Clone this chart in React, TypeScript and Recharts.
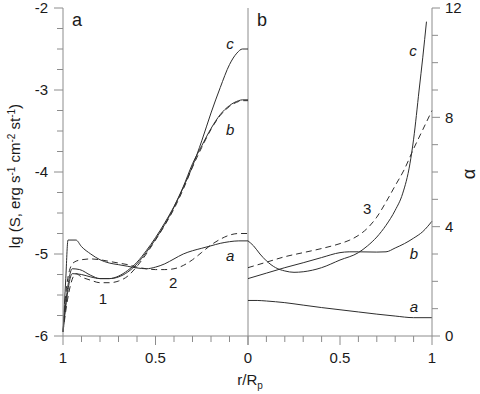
import React from 'react';
import { LineChart, Line, XAxis, YAxis, ReferenceLine, ReferenceDot } from 'recharts';

const AXIS = '#8c8c8c';
const INK = '#2e2e2e';
const TEXT = '#1a1a1a';
const FONT = '"Liberation Sans", Arial, Helvetica, sans-serif';

// panel a: lg S against r/Rp (axis runs 1 -> 0)
const rA1 = [1, 0.985, 0.973, 0.93, 0.9, 0.85, 0.8, 0.75, 0.7, 0.65, 0.6, 0.55, 0.5, 0.45, 0.4, 0.35, 0.3, 0.25, 0.2, 0.15, 0.1, 0.05, 0];
const sA1 = [-5.95, -5.3, -4.83, -4.83, -4.91, -5.0, -5.07, -5.11, -5.13, -5.15, -5.17, -5.18, -5.16, -5.12, -5.06, -5.0, -4.96, -4.93, -4.9, -4.87, -4.85, -4.84, -4.84];
const rA2 = [1, 0.985, 0.965, 0.94, 0.9, 0.85, 0.8, 0.75, 0.7, 0.65, 0.6, 0.55, 0.5, 0.45, 0.4, 0.35, 0.3, 0.25, 0.2, 0.15, 0.1, 0.05, 0];
const sA2 = [-5.95, -5.5, -5.2, -5.1, -5.07, -5.06, -5.07, -5.09, -5.11, -5.13, -5.16, -5.18, -5.19, -5.19, -5.18, -5.14, -5.07, -4.98, -4.89, -4.82, -4.77, -4.75, -4.75];
const rC1 = [1, 0.98, 0.95, 0.91, 0.85, 0.8, 0.75, 0.7, 0.65, 0.6, 0.55, 0.5, 0.45, 0.4, 0.35, 0.3, 0.25, 0.2, 0.15, 0.1, 0.06, 0.03, 0];
const sC1 = [-5.95, -5.5, -5.18, -5.19, -5.26, -5.3, -5.3, -5.28, -5.22, -5.12, -4.98, -4.82, -4.64, -4.43, -4.19, -3.93, -3.62, -3.28, -2.97, -2.69, -2.55, -2.5, -2.5];
const rB1 = [1, 0.98, 0.95, 0.9, 0.85, 0.8, 0.75, 0.7, 0.65, 0.6, 0.55, 0.5, 0.45, 0.4, 0.35, 0.3, 0.25, 0.2, 0.15, 0.1, 0.05, 0.03, 0];
const sB1 = [-5.95, -5.55, -5.24, -5.25, -5.28, -5.3, -5.3, -5.27, -5.2, -5.1, -4.96, -4.8, -4.62, -4.42, -4.18, -3.9, -3.68, -3.47, -3.3, -3.19, -3.13, -3.12, -3.12];
const rB2 = [1, 0.975, 0.93, 0.9, 0.85, 0.8, 0.75, 0.7, 0.65, 0.6, 0.55, 0.5, 0.45, 0.4, 0.35, 0.3, 0.25, 0.2, 0.15, 0.1, 0.05, 0.03, 0];
const sB2 = [-5.95, -5.55, -5.24, -5.28, -5.32, -5.35, -5.35, -5.33, -5.27, -5.15, -5.0, -4.83, -4.65, -4.45, -4.21, -3.94, -3.7, -3.48, -3.31, -3.2, -3.14, -3.13, -3.13];

// panel b: alpha against r/Rp
const rRa = [0, 0.05, 0.1, 0.2, 0.3, 0.4, 0.5, 0.6, 0.7, 0.8, 0.9, 1];
const alA = [1.3, 1.3, 1.28, 1.22, 1.13, 1.04, 0.96, 0.88, 0.8, 0.73, 0.67, 0.67];
const rRb = [0, 0.1, 0.2, 0.3, 0.4, 0.5, 0.55, 0.6, 0.7, 0.75, 0.8, 0.85, 0.9, 0.95, 1];
const alB = [2.1, 2.3, 2.5, 2.68, 2.87, 3.05, 3.08, 3.08, 3.07, 3.08, 3.22, 3.38, 3.58, 3.82, 4.2];
const rRc = [0, 0.03, 0.065, 0.1, 0.15, 0.2, 0.25, 0.3, 0.4, 0.5, 0.6, 0.65, 0.7, 0.75, 0.8, 0.84, 0.88, 0.9, 0.93, 0.95, 0.97];
const alC = [3.48, 3.3, 3.0, 2.75, 2.5, 2.38, 2.33, 2.35, 2.5, 2.78, 3.05, 3.3, 3.62, 4.05, 4.6, 5.2, 6.3, 7.2, 9.0, 10.2, 11.5];
const rR3 = [0, 0.1, 0.2, 0.3, 0.4, 0.5, 0.55, 0.6, 0.65, 0.7, 0.75, 0.8, 0.85, 0.9, 0.95, 1];
const al3 = [2.5, 2.7, 2.9, 3.05, 3.2, 3.38, 3.5, 3.68, 3.95, 4.35, 4.9, 5.5, 6.1, 6.85, 7.55, 8.25];

const xTicks = [0, 0.1, 0.2, 0.3, 0.4, 0.5, 0.6, 0.7, 0.8, 0.9, 1];
const sTicks = [-6, -5.75, -5.5, -5.25, -5, -4.75, -4.5, -4.25, -4, -3.75, -3.5, -3.25, -3, -2.75, -2.5, -2.25, -2];
const alphaTicks = [0, 1, 2, 3, 4, 5, 6, 7, 8, 9, 10, 11, 12];

// text labels inside the panels: [text, r, value, italic, size]
const notesA: [string, number, number, boolean, number][] = [
  ['a', 0.924, -2.14, false, 18],
  ['c', 0.097, -2.44, true, 15],
  ['b', 0.097, -3.48, true, 15],
  ['a', 0.097, -5.02, true, 15],
  ['1', 0.784, -5.54, false, 15],
  ['2', 0.405, -5.35, false, 15],
];
const notesB: [string, number, number, boolean, number][] = [
  ['b', 0.076, 11.58, false, 18],
  ['c', 0.897, 10.43, true, 15],
  ['3', 0.647, 4.65, false, 15],
  ['b', 0.902, 3.0, true, 15],
  ['a', 0.902, 1.06, true, 15],
];

const zip = (r: number[], v: number[]) => r.map((x, i) => ({ r: x, v: v[i] }));

function BottomTick(props: any) {
  const { x, y, payload, hideZero } = props;
  const v = Math.round(payload.value * 10) / 10;
  const major = v === 0 || v === 0.5 || v === 1;
  const label = major && !(hideZero && v === 0) ? String(v) : null;
  return (
    <g>
      <line x1={x} x2={x} y1={y} y2={y + (major ? 9 : 6)} stroke={AXIS} />
      {label && (
        <text x={x} y={y + 27} textAnchor="middle" fontSize={15} fill={TEXT} fontFamily={FONT}>
          {label}
        </text>
      )}
    </g>
  );
}

function LeftTick(props: any) {
  const { x, y, payload } = props;
  const major = Number.isInteger(payload.value);
  return (
    <g>
      <line x1={x - (major ? 9 : 6)} x2={x} y1={y} y2={y} stroke={AXIS} />
      {major && (
        <text x={x - 15} y={y} dy="0.36em" textAnchor="end" fontSize={15} fill={TEXT} fontFamily={FONT}>
          {'-' + Math.abs(payload.value)}
        </text>
      )}
    </g>
  );
}

function RightTick(props: any) {
  const { x, y, payload } = props;
  const major = payload.value % 4 === 0;
  return (
    <g>
      <line x1={x} x2={x + (major ? 8 : 6)} y1={y} y2={y} stroke={AXIS} />
      {major && (
        <text x={x + 13} y={y} dy="0.36em" textAnchor="start" fontSize={15} fill={TEXT} fontFamily={FONT}>
          {payload.value}
        </text>
      )}
    </g>
  );
}

const note = (text: string, italic: boolean, size: number) => (p: any) => {
  const vb = p.viewBox;
  const cx = vb.x + vb.width / 2;
  const cy = vb.y + vb.height / 2;
  return (
    <text x={cx} y={cy} dy="0.36em" textAnchor="middle" fontSize={size} fontStyle={italic ? 'italic' : 'normal'} fill={TEXT} fontFamily={FONT}>
      {text}
    </text>
  );
};

const sLabel = (p: any) => {
  const vb = p.viewBox;
  const x = vb.x + 15;
  const y = 176;
  return (
    <text transform={`rotate(-90, ${x}, ${y})`} x={x} y={y} dy="0.36em" textAnchor="middle" fontSize={15} fill={TEXT} fontFamily={FONT}>
      lg (S, erg s<tspan dy={-5} fontSize={10}>-1</tspan>
      <tspan dy={5} fontSize={15}> cm</tspan>
      <tspan dy={-5} fontSize={10}>-2</tspan>
      <tspan dy={5} fontSize={15}> st</tspan>
      <tspan dy={-5} fontSize={10}>-1</tspan>
      <tspan dy={5} fontSize={15}>)</tspan>
    </text>
  );
};

const alphaLabel = (p: any) => {
  const vb = p.viewBox;
  const x = vb.x + 37;
  const y = 174;
  return (
    <text transform={`rotate(-90, ${x}, ${y})`} x={x} y={y} dy="0.36em" textAnchor="middle" fontSize={18} fill={TEXT} fontFamily={FONT}>
      α
    </text>
  );
};

const rLabel = (p: any) => {
  const vb = p.viewBox;
  return (
    <text x={vb.x + 2} y={385} textAnchor="middle" fontSize={15} fill={TEXT} fontFamily={FONT}>
      r/R<tspan dy={4} fontSize={10}>p</tspan>
    </text>
  );
};

export default function App() {
  return (
    <div style={{ position: 'absolute', left: 0, top: 0, width: 480, height: 394, background: '#fff' }}>
      <div style={{ position: 'absolute', left: 0, top: 0 }}>
        <LineChart width={250} height={394} margin={{ top: 8, right: 2, bottom: 0, left: 0 }}>
          <XAxis
            dataKey="r"
            type="number"
            domain={[0, 1]}
            reversed
            ticks={xTicks}
            interval={0}
            tick={(p: any) => <BottomTick {...p} hideZero />}
            tickLine={false}
            tickSize={0}
            tickMargin={0}
            axisLine={{ stroke: AXIS }}
            height={58}
          />
          <YAxis
            type="number"
            domain={[-6, -2]}
            ticks={sTicks}
            interval={0}
            tick={(p: any) => <LeftTick {...p} />}
            tickLine={false}
            tickSize={0}
            tickMargin={0}
            axisLine={{ stroke: AXIS }}
            width={63}
            label={sLabel}
          />
          <ReferenceLine x={0} stroke={AXIS} />
          <Line data={zip(rA1, sA1)} dataKey="v" type="monotone" stroke={INK} strokeWidth={1} dot={false} isAnimationActive={false} />
          <Line data={zip(rA2, sA2)} dataKey="v" type="monotone" stroke={INK} strokeWidth={1} strokeDasharray="6 4" dot={false} isAnimationActive={false} />
          <Line data={zip(rC1, sC1)} dataKey="v" type="monotone" stroke={INK} strokeWidth={1} dot={false} isAnimationActive={false} />
          <Line data={zip(rB1, sB1)} dataKey="v" type="monotone" stroke={INK} strokeWidth={1} dot={false} isAnimationActive={false} />
          <Line data={zip(rB2, sB2)} dataKey="v" type="monotone" stroke={INK} strokeWidth={1} strokeDasharray="6 4" dot={false} isAnimationActive={false} />
          {notesA.map(([t, r, v, it, sz]) => (
            <ReferenceDot key={t + r} x={r} y={v} r={0.5} fill="none" stroke="none" label={note(t, it, sz)} />
          ))}
        </LineChart>
      </div>
      <div style={{ position: 'absolute', left: 200, top: 0 }}>
        <LineChart width={280} height={394} margin={{ top: 8, right: 0, bottom: 0, left: 48 }}>
          <XAxis
            dataKey="r"
            type="number"
            domain={[0, 1]}
            ticks={xTicks}
            interval={0}
            tick={(p: any) => <BottomTick {...p} />}
            tickLine={false}
            tickSize={0}
            tickMargin={0}
            axisLine={{ stroke: AXIS }}
            height={58}
            label={rLabel}
          />
          <YAxis
            type="number"
            orientation="right"
            domain={[0, 12]}
            ticks={alphaTicks}
            interval={0}
            tick={(p: any) => <RightTick {...p} />}
            tickLine={false}
            tickSize={0}
            tickMargin={0}
            axisLine={{ stroke: AXIS }}
            width={48}
            label={alphaLabel}
          />
          <Line data={zip(rRa, alA)} dataKey="v" type="monotone" stroke={INK} strokeWidth={1} dot={false} isAnimationActive={false} />
          <Line data={zip(rRb, alB)} dataKey="v" type="monotone" stroke={INK} strokeWidth={1} dot={false} isAnimationActive={false} />
          <Line data={zip(rRc, alC)} dataKey="v" type="monotone" stroke={INK} strokeWidth={1} dot={false} isAnimationActive={false} />
          <Line data={zip(rR3, al3)} dataKey="v" type="monotone" stroke={INK} strokeWidth={1} strokeDasharray="6 4" dot={false} isAnimationActive={false} />
          {notesB.map(([t, r, v, it, sz]) => (
            <ReferenceDot key={t + r} x={r} y={v} r={0.5} fill="none" stroke="none" label={note(t, it, sz)} />
          ))}
        </LineChart>
      </div>
    </div>
  );
}
